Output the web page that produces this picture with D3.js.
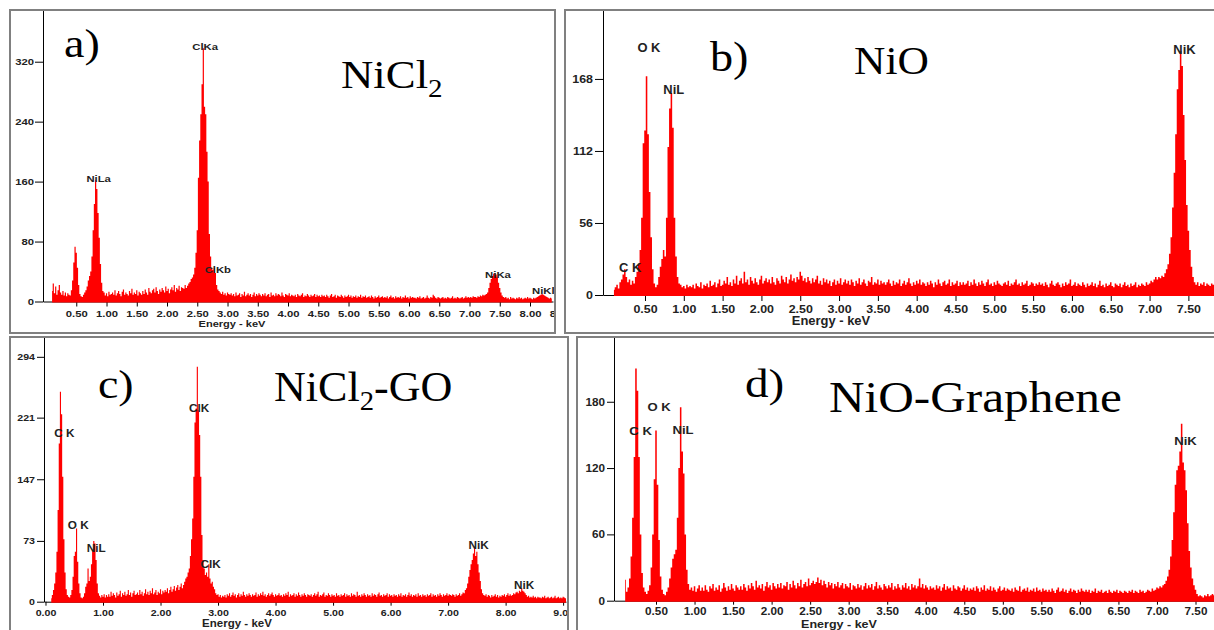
<!DOCTYPE html>
<html>
<head>
<meta charset="utf-8">
<script src="https://cdn.jsdelivr.net/npm/d3@7"></script>
<style>
html, body { margin: 0; padding: 0; background: #fff; }
svg { display: block; }
</style>
</head>
<body>
<svg id="fig" width="1214" height="630"></svg>
<script>
const width = 1214, height = 630
const step = 0.02   // keV per channel, first channel at 0.10 keV
const start = 0.10

// a) NiCl2 counts per channel
const nicl2Counts = [
 14,24,11,20,9,15,22,12,9,14,8,12,7,11,9,8,15,28,52,73,65,45,22,10,7,
 6,9,12,15,20,28,34,40,60,95,130,162,150,118,85,50,25,14,12,8,11,7,13,9,10,
 12,9,15,8,11,14,10,7,13,16,9,12,10,8,14,11,17,9,12,10,15,8,13,11,9,
 14,10,16,12,9,18,13,11,15,17,12,19,14,10,16,13,18,15,12,20,14,17,11,16,19,
 15,22,13,18,16,21,14,19,18,17,22,18,21,24,26,30,32,36,45,65,95,165,215,250,290,
 338,260,250,200,160,90,60,45,42,45,38,22,16,14,12,10,13,9,11,8,12,10,9,11,8,
 10,7,12,8,9,11,6,10,8,13,7,9,11,8,10,6,9,12,7,10,8,11,9,7,10,
 8,11,7,9,10,6,12,8,9,7,11,8,10,9,7,12,8,6,10,9,8,11,7,9,8,
 7,9,6,10,8,7,9,11,6,8,7,10,8,6,9,7,8,10,6,9,7,8,6,9,7,
 8,6,9,7,5,8,10,6,7,9,5,8,7,6,9,7,5,8,6,7,9,6,8,5,7,
 6,8,5,7,6,9,5,7,6,8,5,6,7,5,8,6,4,7,5,6,8,5,6,7,5,
 6,5,7,4,6,8,5,6,4,7,5,6,5,7,4,6,5,8,5,6,4,7,5,6,5,
 5,4,6,5,7,4,5,6,4,5,8,5,4,6,5,9,7,5,4,6,5,4,5,6,4,
 5,4,6,5,4,5,7,4,5,4,6,5,4,5,6,4,5,7,5,6,5,6,5,7,6,
 6,5,7,6,8,7,9,8,9,10,12,18,25,30,34,37,38,36,33,25,18,12,8,6,5,
 6,4,5,3,6,4,5,4,3,5,4,6,4,5,3,4,5,4,6,4,5,4,3,5,4,
 5,6,7,8,9,10,9,8,7,6,5,4,5,4
]

// b) NiO
const nioCounts = [
 4,6,8,5,10,12,16,20,14,10,12,8,11,9,14,18,24,35,60,118,128,170,125,80,45,
 20,9,6,8,14,22,28,35,30,60,115,145,157,130,60,30,14,9,8,6,7,5,8,6,7,
 6,8,5,9,7,6,10,5,8,7,9,6,11,7,8,10,6,9,12,7,8,11,9,14,8,
 10,7,12,9,15,8,11,13,9,18,10,12,8,14,11,9,13,10,8,12,15,9,11,13,10,
 12,9,14,10,8,13,11,9,15,12,10,14,9,12,16,11,13,10,14,12,18,15,11,13,10,
 14,11,9,13,10,12,15,9,11,8,13,10,12,9,11,7,10,12,8,11,9,13,8,10,12,
 9,11,8,12,10,7,11,9,13,8,10,12,9,7,11,10,14,8,10,9,12,8,11,9,10,
 8,10,12,9,7,11,8,10,9,12,7,9,11,8,10,13,9,7,10,8,11,9,12,8,10,
 9,7,10,8,11,9,6,10,8,12,9,7,10,11,8,9,12,7,10,8,9,11,7,10,8,
 10,8,9,11,7,10,8,12,9,7,10,8,11,9,7,10,12,8,9,7,10,8,11,9,8,
 7,9,10,8,11,7,9,8,10,12,8,9,7,10,8,9,11,7,8,10,9,7,9,8,10,
 8,9,7,10,8,6,9,11,8,7,9,10,8,6,9,7,10,8,9,12,7,8,10,7,9,
 8,7,10,8,6,9,7,8,10,7,9,6,8,11,7,8,6,9,7,8,10,7,6,9,8,
 7,9,6,8,10,7,8,6,9,7,8,10,6,8,7,9,8,7,10,8,9,11,10,12,14,
 12,14,13,15,14,17,20,24,32,45,68,95,125,160,175,190,178,140,105,70,50,35,22,14,10,
 8,10,7,9,8,10,7,9,8,7,9,8,7
]

// c) NiCl2-GO
const nicl2GoCounts = [
 4,8,14,22,35,60,110,190,252,225,150,75,35,15,8,6,5,8,14,30,55,60,88,48,22,
 10,5,4,6,10,18,22,40,25,30,45,62,73,70,50,22,10,7,5,8,6,9,5,8,6,
 9,6,12,7,10,8,5,11,7,9,13,6,10,8,12,7,9,14,8,11,6,10,13,8,9,
 11,8,14,9,12,7,10,15,9,12,8,13,10,16,9,11,14,8,12,10,15,9,13,11,14,
 12,16,10,14,18,12,15,19,13,17,20,14,18,22,16,20,24,28,30,35,40,55,75,100,150,
 215,232,282,230,200,150,80,50,40,32,35,30,45,28,22,24,18,15,10,8,9,6,8,5,7,
 6,8,5,9,7,10,6,8,11,7,9,5,8,10,6,9,7,12,8,6,9,7,10,8,6,
 9,7,8,11,6,9,7,10,8,12,7,9,6,8,10,7,9,11,8,6,9,7,8,10,7,
 8,6,9,7,10,8,12,6,9,7,8,10,6,9,7,11,8,6,9,7,10,8,6,9,8,
 7,9,6,8,10,7,9,12,6,8,7,9,11,6,8,7,10,8,6,9,7,8,6,10,7,
 8,6,9,7,8,10,6,9,7,8,6,10,7,9,8,6,12,7,8,6,9,7,10,8,6,
 9,7,8,6,10,7,9,8,6,9,11,7,8,6,9,7,8,10,6,9,7,8,6,9,7,
 8,6,9,7,10,6,8,7,9,6,8,11,7,9,6,8,7,9,6,10,7,8,6,9,7,
 8,6,9,7,8,10,6,9,7,8,6,9,7,10,8,6,9,7,8,10,7,9,8,7,9,
 8,6,9,7,8,10,7,9,11,10,14,16,22,30,38,45,50,58,66,55,60,45,35,25,15,
 10,8,7,9,6,8,7,5,8,6,7,9,6,8,5,7,6,8,7,9,6,8,10,7,9,
 7,8,10,9,11,12,10,13,12,16,13,12,10,8,6,7,5,6,5,7,5,6,4,6,5,
 5,4,6,5,7,4,5,6,4,5,6,4,5,7,4,5,6,4,5,4,6,5,4,5
]

// d) NiO-Graphene
const nioGrCounts = [
 19,8,12,20,40,75,130,210,190,130,60,25,12,8,6,9,14,30,60,110,154,105,55,22,10,
 6,5,8,12,20,30,38,42,46,75,120,175,135,115,60,28,15,10,12,9,13,8,11,14,9,
 12,9,14,10,8,13,11,15,9,12,10,14,8,11,16,12,9,13,10,15,11,9,14,12,10,
 13,10,15,12,9,14,11,16,13,10,18,12,14,11,15,9,13,17,12,14,10,16,13,11,15,
 12,16,11,14,13,17,10,15,12,18,14,11,16,13,19,12,15,17,13,20,14,16,18,15,17,
 21,16,19,14,18,15,12,17,14,16,11,15,13,17,12,14,16,11,15,13,12,16,10,14,13,
 11,15,12,14,10,13,16,11,14,12,15,10,13,17,11,14,12,10,15,13,11,14,12,16,10,
 13,11,15,12,10,14,12,16,11,13,10,15,12,14,11,13,20,12,15,11,14,12,10,13,11,
 12,10,14,11,13,9,12,15,10,13,11,12,9,14,11,10,13,12,9,11,14,10,12,9,11,
 10,12,9,13,11,8,12,10,14,9,11,10,13,9,12,10,8,11,13,9,10,12,9,11,10,
 9,11,8,12,10,9,13,8,10,11,9,12,8,10,9,11,8,12,9,10,8,11,9,10,8,
 10,8,11,9,7,10,12,8,9,11,8,10,7,9,11,8,10,9,7,10,8,11,9,8,10,
 8,10,7,9,8,11,7,9,8,10,7,8,9,7,10,8,7,9,8,10,7,9,8,7,9,
 8,7,9,8,10,7,9,8,7,10,8,9,7,8,10,9,8,11,9,10,12,11,13,12,14,
 15,18,22,28,40,55,80,105,118,122,135,160,125,118,100,70,45,30,20,14,10,6,4,5,4,
 3,5,4,6,4,5,6,5,4
]

const nicl2YTicks = [0, 80, 160, 240, 320]
const nioYTicks = [0, 56, 112, 168]
const nicl2GoYTicks = [0, 73, 147, 221, 294]
const nioGrYTicks = [0, 60, 120, 180]

const nicl2XTicks = [0.5, 1, 1.5, 2, 2.5, 3, 3.5, 4, 4.5, 5, 5.5, 6, 6.5, 7, 7.5, 8, 8.5]
const nioXTicks = [0.5, 1, 1.5, 2, 2.5, 3, 3.5, 4, 4.5, 5, 5.5, 6, 6.5, 7, 7.5]
const nicl2GoXTicks = [0, 1, 2, 3, 4, 5, 6, 7, 8, 9]
const nioGrXTicks = [0.5, 1, 1.5, 2, 2.5, 3, 3.5, 4, 4.5, 5, 5.5, 6, 6.5, 7, 7.5]

// peak labels: text, energy (keV), count level of the label baseline
const nicl2Peaks = [
  {text: "ClKa", e: 2.63, c: 336}, {text: "NiLa", e: 0.87, c: 160},
  {text: "ClKb", e: 2.84, c: 38}, {text: "NiKa", e: 7.47, c: 31}, {text: "NiKl", e: 8.22, c: 10}]
const nioPeaks = [
  {text: "O K", e: 0.55, c: 189}, {text: "NiL", e: 0.87, c: 156},
  {text: "C K", e: 0.31, c: 17.5}, {text: "NiK", e: 7.45, c: 187}]
const nicl2GoPeaks = [
  {text: "C K", e: 0.33, c: 198}, {text: "O K", e: 0.57, c: 87}, {text: "NiL", e: 0.88, c: 60},
  {text: "ClK", e: 2.67, c: 228}, {text: "ClK", e: 2.87, c: 40.5},
  {text: "NiK", e: 7.53, c: 63.6}, {text: "NiK", e: 8.32, c: 15.2}]
const nioGrPeaks = [
  {text: "C K", e: 0.30, c: 150}, {text: "O K", e: 0.54, c: 172},
  {text: "NiL", e: 0.85, c: 151}, {text: "NiK", e: 7.37, c: 141}]

const panels = [
  {counts: nicl2Counts, yTicks: nicl2YTicks, xTicks: nicl2XTicks, peaks: nicl2Peaks,
   tag: "a)", name: ["NiCl", "2", ""],
   frame: [10, 10, 545, 323], xRange: [43, 553], xDomain: [-0.05, 8.38], yRange: [301.5, 10], yMax: 389,
   sx: 1.15, tickFont: 9.8, ySize: 8, yPad: 1, xSize: 5, xPad: 4,
   titleFont: 9.6, titlePos: [232, 327], peakFont: 9.8,
   tagPos: [64, 57], tagFont: 40, tagSx: 1.15, namePos: [341, 88], nameFont: 40, nameSx: 1.12},
  {counts: nioCounts, yTicks: nioYTicks, xTicks: nioXTicks, peaks: nioPeaks,
   tag: "b)", name: ["NiO"],
   frame: [565, 10, 700, 323], xRange: [603, 1214], xDomain: [-0.041, 7.83], yRange: [295, 10], yMax: 221.6,
   sx: 1.08, tickFont: 11.5, ySize: 8, yPad: 2, xSize: 6, xPad: 4,
   titleFont: 12, titlePos: [831, 325], peakFont: 12,
   tagPos: [710, 71], tagFont: 42, tagSx: 1.1, namePos: [854, 74], nameFont: 41, nameSx: 1.06},
  {counts: nicl2GoCounts, yTicks: nicl2GoYTicks, xTicks: nicl2GoXTicks, peaks: nicl2GoPeaks,
   tag: "c)", name: ["NiCl", "2", "-GO"],
   frame: [10, 337, 558, 320], xRange: [44, 566], xDomain: [-0.026, 9.05], yRange: [601.7, 337], yMax: 317.8,
   sx: 1.12, tickFont: 9.5, ySize: 7, yPad: 2, xSize: 4, xPad: 4,
   titleFont: 10.3, titlePos: [237, 627], peakFont: 10.5,
   tagPos: [98, 398], tagFont: 41, tagSx: 1.12, namePos: [274, 401], nameFont: 42, nameSx: 1.05},
  {counts: nioGrCounts, yTicks: nioGrYTicks, xTicks: nioGrXTicks, peaks: nioGrPeaks,
   tag: "d)", name: ["NiO-Graphene"],
   frame: [577, 337, 700, 320], xRange: [614, 1214], xDomain: [-0.045, 7.74], yRange: [600.7, 337], yMax: 238.6,
   sx: 1.14, tickFont: 10.3, ySize: 7, yPad: 2, xSize: 4, xPad: 3,
   titleFont: 11, titlePos: [839, 628], peakFont: 11.5,
   tagPos: [745, 397], tagFont: 41, tagSx: 1.15, namePos: [829, 412], nameFont: 44, nameSx: 1.12}
]

const sans = "'Liberation Sans', Arial, sans-serif"
const serif = "'Liberation Serif', 'Times New Roman', serif"

const svg = d3.select("#fig").attr("viewBox", [0, 0, width, height])

function stretch(sel, sx) {
  sel.each(function () {
    const t = d3.select(this)
    t.attr("x", (+t.attr("x") || 0) / sx).attr("transform", `scale(${sx},1)`)
  })
}

panels.forEach((p, k) => {
  const [fx, fy, fw, fh] = p.frame
  const x = d3.scaleLinear().domain(p.xDomain).range(p.xRange)
  const y = d3.scaleLinear().domain([0, p.yMax]).range(p.yRange)

  const defs = svg.append("defs")
  defs.append("clipPath").attr("id", "frame" + k)
    .append("rect").attr("x", fx + 1).attr("y", fy + 1).attr("width", fw - 2).attr("height", fh - 2)
  defs.append("clipPath").attr("id", "plot" + k)
    .append("rect").attr("x", p.xRange[0]).attr("y", p.yRange[1])
    .attr("width", p.xRange[1] - p.xRange[0]).attr("height", p.yRange[0] - p.yRange[1] + 2)

  const g = svg.append("g").attr("clip-path", `url(#frame${k})`)

  // y axis
  const ya = g.append("g")
    .attr("transform", `translate(${p.xRange[0]},0)`)
    .call(d3.axisLeft(y).tickValues(p.yTicks).tickSize(p.ySize).tickPadding(p.yPad).tickSizeOuter(0))
  ya.attr("font-size", p.tickFont).attr("font-family", sans).attr("font-weight", "bold").attr("color", "#000")
  ya.selectAll(".tick text").attr("fill", "#222").call(stretch, p.sx)

  // x axis
  const xa = g.append("g")
    .attr("transform", `translate(0,${p.yRange[0]})`)
    .call(d3.axisBottom(x).tickValues(p.xTicks).tickFormat(d3.format(".2f"))
      .tickSize(p.xSize).tickPadding(p.xPad).tickSizeOuter(0))
  xa.attr("font-size", p.tickFont).attr("font-family", sans).attr("font-weight", "bold").attr("color", "#000")
  xa.selectAll(".tick text").attr("fill", "#222").call(stretch, p.sx)

  g.append("text")
    .attr("transform", `translate(${p.titlePos[0]},${p.titlePos[1]}) scale(${p.sx},1)`)
    .attr("text-anchor", "middle")
    .attr("font-family", sans).attr("font-weight", "bold").attr("font-size", p.titleFont)
    .attr("fill", "#222")
    .text("Energy - keV")

  // spectrum
  const data = p.counts.map((c, i) => ({e: start + i * step, c}))
  const area = d3.area()
    .x(d => x(d.e))
    .y0(y(0) + 1)
    .y1(d => y(d.c))
    .curve(d3.curveStep)
  g.append("g").attr("clip-path", `url(#plot${k})`)
    .append("path")
    .datum(data)
    .attr("fill", "#ff0000")
    .attr("d", area)

  // peak labels
  g.append("g")
    .selectAll("text")
    .data(p.peaks)
    .join("text")
    .attr("transform", d => `translate(${x(d.e)},${y(d.c)}) scale(${p.sx},1)`)
    .attr("text-anchor", "middle")
    .attr("font-family", sans).attr("font-weight", "bold").attr("font-size", p.peakFont)
    .attr("fill", "#222")
    .text(d => d.text)

  // panel letter and sample name
  g.append("text")
    .attr("transform", `translate(${p.tagPos[0]},${p.tagPos[1]}) scale(${p.tagSx},1)`)
    .attr("font-family", serif).attr("font-size", p.tagFont).attr("fill", "#000")
    .text(p.tag)

  const nm = g.append("text")
    .attr("transform", `translate(${p.namePos[0]},${p.namePos[1]}) scale(${p.nameSx},1)`)
    .attr("font-family", serif).attr("font-size", p.nameFont).attr("fill", "#000")
  nm.append("tspan").text(p.name[0])
  if (p.name.length > 1) {
    nm.append("tspan").attr("font-size", "0.65em").attr("dy", "0.34em").text(p.name[1])
    nm.append("tspan").attr("dy", "-0.22em").text(p.name[2])
  }

  // frame
  svg.append("rect")
    .attr("x", fx).attr("y", fy).attr("width", fw).attr("height", fh)
    .attr("fill", "none").attr("stroke", "#808080").attr("stroke-width", 2)
})
</script>
</body>
</html>
